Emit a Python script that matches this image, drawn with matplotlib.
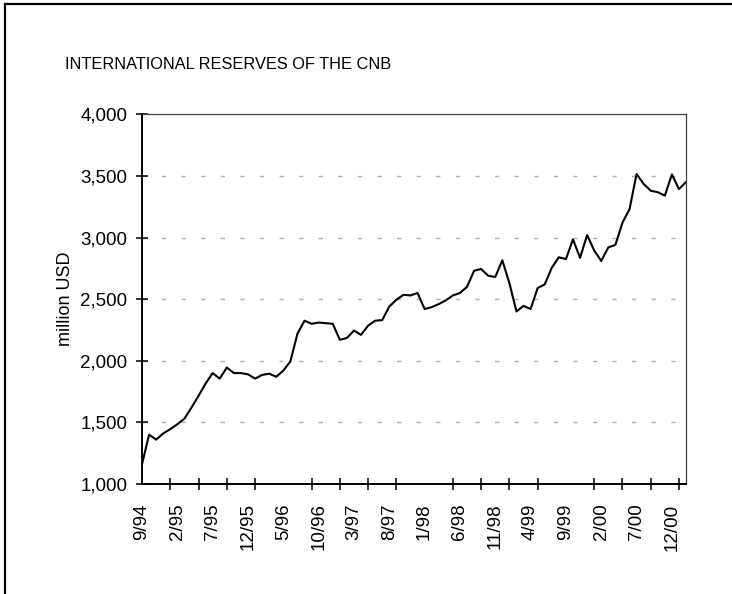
import matplotlib
matplotlib.use("Agg")
import matplotlib.pyplot as plt
from matplotlib import font_manager
from matplotlib.lines import Line2D
from matplotlib.ticker import FuncFormatter, FixedLocator

# monthly reserves, 9/94 .. 2/01 (million USD)
reserves = [1160, 1400, 1360, 1410, 1445, 1485, 1530, 1620, 1715, 1815,
            1900, 1855, 1945, 1900, 1900, 1890, 1855, 1885, 1895, 1870,
            1920, 1995, 2220, 2325, 2300, 2310, 2305, 2300, 2170, 2185,
            2245, 2210, 2285, 2325, 2330, 2440, 2495, 2535, 2530, 2550,
            2420, 2435, 2460, 2490, 2530, 2550, 2600, 2730, 2745, 2690,
            2680, 2815, 2630, 2400, 2445, 2420, 2590, 2620, 2755, 2840,
            2825, 2985, 2835, 3020, 2895, 2810, 2920, 2940, 3120, 3230,
            3515, 3435, 3380, 3368, 3340, 3512, 3393, 3450]
tick_labels = ["9/94", "2/95", "7/95", "12/95", "5/96", "10/96", "3/97", "8/97",
               "1/98", "6/98", "11/98", "4/99", "9/99", "2/00", "7/00", "12/00"]
label_step = 5
tick_step = 4
yticks = [1000, 1500, 2000, 2500, 3000, 3500, 4000]

plt.rcParams['font.family'] = ['Liberation Sans', 'DejaVu Sans']

# title is set in a narrow face in the original
installed = {f.name for f in font_manager.fontManager.ttflist}
if 'Liberation Sans Narrow' in installed:
    title_font, title_size = 'Liberation Sans Narrow', 14
else:
    title_font, title_size = 'Liberation Sans', 11.8

fig = plt.figure(figsize=(7.32, 5.94), dpi=100)
ax = fig.add_axes([0.194, 0.1852, 0.7432, 0.6224])

x = list(range(len(reserves)))
ax.plot(x, reserves, color='black', lw=1.5, solid_joinstyle='round')

ax.set_xlim(0, len(reserves) - 1)
ax.set_ylim(1000, 4000)

ax.set_yticks(yticks)
ax.yaxis.set_major_formatter(FuncFormatter(lambda v, p: f"{int(v):,}"))
for v in yticks[1:-1]:
    ax.axhline(v, color='#b0b0b0', lw=1.0, linestyle=(0, (3, 11.1)), zorder=0)

# labels every 5 months, tick marks every 4 months
ax.set_xticks([i * label_step for i in range(len(tick_labels))])
ax.set_xticklabels(tick_labels, rotation=90)
ax.xaxis.set_minor_locator(FixedLocator(list(range(0, len(reserves), tick_step))))
ax.tick_params(axis='x', which='major', length=0, pad=14, labelsize=13.5)
ax.tick_params(axis='x', which='minor', direction='inout', length=9, width=1.1)
ax.tick_params(axis='y', direction='inout', length=9, width=1.1, pad=6, labelsize=13.5)

for s in ['left', 'bottom']:
    ax.spines[s].set_linewidth(1.4)
    ax.spines[s].set_color('black')
for s in ['top', 'right']:
    ax.spines[s].set_linewidth(0.9)
    ax.spines[s].set_color('#404040')

ax.set_ylabel("million USD", fontsize=13)
ax.yaxis.set_label_coords(-0.125, 0.5)

fig.text(0.0888, 0.891, "INTERNATIONAL RESERVES OF THE CNB", fontsize=title_size,
         va='center', ha='left', family=[title_font, 'DejaVu Sans'])

# frame lines at top and left of the picture
fig.add_artist(Line2D([5 / 732, 1], [1 - 4 / 594] * 2, color='black', lw=1.6,
                      transform=fig.transFigure))
fig.add_artist(Line2D([5 / 732] * 2, [0, 1 - 4 / 594], color='black', lw=1.6,
                      transform=fig.transFigure))

fig.savefig("out.png", dpi=100)
